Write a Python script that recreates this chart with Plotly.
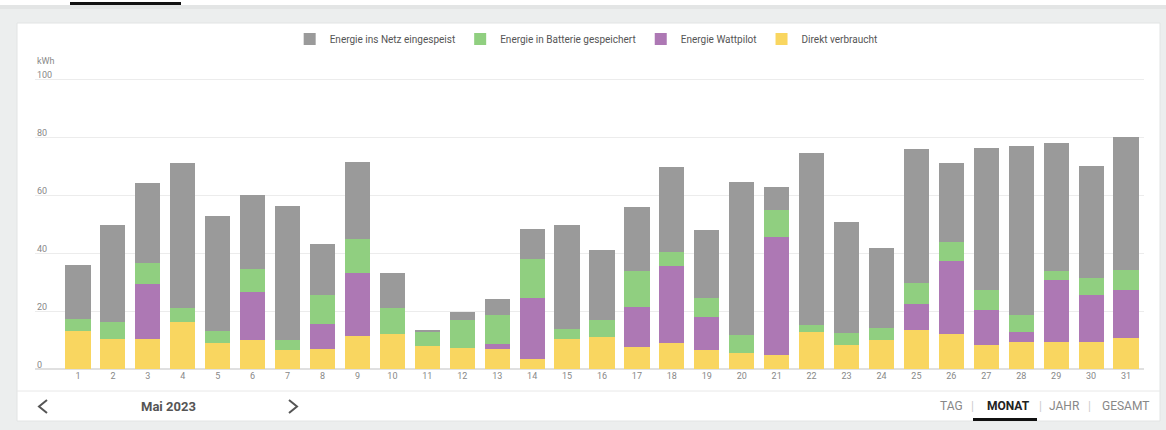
import plotly.graph_objects as go

days = [str(i) for i in range(1, 32)]
direkt = [13.2, 10.5, 10.3, 16.1, 8.9, 10.1, 6.7, 6.8, 11.4, 12.0,
          7.8, 7.2, 6.8, 3.4, 10.2, 11.0, 7.6, 9.0, 6.7, 5.6,
          4.7, 12.8, 8.3, 10.0, 13.4, 12.0, 8.3, 9.2, 9.2, 9.4, 10.8]
wattpilot = [0, 0, 19.1, 0, 0, 16.6, 0, 8.7, 21.8, 0,
             0, 0, 1.9, 21.0, 0, 0, 13.9, 26.5, 11.1, 0,
             40.9, 0, 0, 0, 9.1, 25.4, 12.2, 3.6, 21.6, 16.1, 16.6]
batterie = [4.2, 5.6, 7.0, 5.0, 4.3, 7.7, 3.4, 10.1, 11.7, 8.9,
            5.2, 9.6, 9.8, 13.4, 3.7, 5.8, 12.2, 4.7, 6.6, 6.0,
            9.3, 2.5, 4.2, 4.3, 7.0, 6.5, 6.9, 5.7, 2.9, 5.8, 6.7]
netz = [18.6, 33.4, 27.7, 50.0, 39.7, 25.7, 46.2, 17.4, 26.5, 12.3,
        0.6, 2.9, 5.6, 10.6, 35.6, 24.1, 22.3, 29.5, 23.6, 52.8,
        8.0, 59.3, 38.3, 27.4, 46.5, 27.2, 48.8, 58.4, 44.2, 38.6, 45.9]
y_ticks = [0, 20, 40, 60, 80, 100]

W, H = 1166, 430
ML, MR, MT, MB = 35, 22, 75, 61
PW, PH = W - ML - MR, H - MT - MB
Y_MAX = 101.4


def px(x):
    return (x - ML) / PW


def py(y):
    return (H - MB - y) / PH


fig = go.Figure()
series = [
    ("Direkt verbraucht", direkt, "#f9d660"),
    ("Energie Wattpilot", wattpilot, "#ad78b4"),
    ("Energie in Batterie gespeichert", batterie, "#90cf80"),
    ("Energie ins Netz eingespeist", netz, "#9a9a9a"),
]
for name, vals, col in series:
    fig.add_trace(go.Bar(x=days, y=vals, name=name, marker_color=col,
                         marker_line_width=0))

# bars: category centre of day 1 at x=78 px, step ~34.95 px
step = 34.95
left_cat = -0.5 - ((78 - step / 2) - ML) / step
right_cat = 30.5 + ((W - MR) - (1126 + step / 2)) / step

fig.update_layout(
    width=W, height=H,
    margin=dict(l=ML, r=MR, t=MT, b=MB, pad=0),
    paper_bgcolor="#eceeee",
    plot_bgcolor="rgba(0,0,0,0)",
    barmode="stack",
    bargap=0.28,
    font=dict(family="Roboto", color="#666"),
    showlegend=True,
    legend=dict(orientation="h", x=0.497, xanchor="center", y=py(39), yanchor="middle",
                traceorder="reversed", font=dict(size=10, color="#555"),
                bgcolor="rgba(0,0,0,0)", itemwidth=30),
    xaxis=dict(type="category", range=[left_cat, right_cat], showgrid=False,
               showline=False, ticks="", tickfont=dict(size=9, color="#888"),
               fixedrange=True),
    yaxis=dict(range=[0, Y_MAX], tickvals=y_ticks, showticklabels=False,
               showgrid=True, gridcolor="#ececec",
               gridwidth=1, zeroline=True, zerolinecolor="#e0e0e0", showline=False,
               ticks="", fixedrange=True),
)

shapes = []
# top white strip + tab underline
shapes.append(dict(type="rect", xref="paper", yref="paper", x0=px(0), x1=px(W),
                   y0=py(0), y1=py(5), fillcolor="white", line_width=0, layer="below"))
shapes.append(dict(type="rect", xref="paper", yref="paper", x0=px(0), x1=px(W),
                   y0=py(5), y1=py(9), fillcolor="#e3e5e5", line_width=0, layer="below"))
shapes.append(dict(type="rect", xref="paper", yref="paper", x0=px(70), x1=px(181),
                   y0=py(2), y1=py(5), fillcolor="#111", line_width=0, layer="below"))
# card
shapes.append(dict(type="rect", xref="paper", yref="paper", x0=px(17), x1=px(1160),
                   y0=py(23), y1=py(421), fillcolor="white", line=dict(color="#e2e4e4", width=1),
                   layer="below"))
# separator above nav
shapes.append(dict(type="line", xref="paper", yref="paper", x0=px(17), x1=px(1160),
                   y0=py(391), y1=py(391), line=dict(color="#e8e8e8", width=1)))
# MONAT underline
shapes.append(dict(type="rect", xref="paper", yref="paper", x0=px(973), x1=px(1037),
                   y0=py(418), y1=py(421), fillcolor="#111", line_width=0))
# chevrons
for pts in ([(47, 400), (39, 406.5), (47, 413)], [(289, 400), (297, 406.5), (289, 413)]):
    path = "M " + " L ".join(f"{px(a)},{py(b)}" for a, b in pts)
    shapes.append(dict(type="path", xref="paper", yref="paper", path=path,
                       line=dict(color="#555", width=2)))
fig.update_layout(shapes=shapes)

ann = []
for v in y_ticks:
    ann.append(dict(text=str(v), xref="paper", yref="y", x=px(35), y=v,
                    xanchor="left", yanchor="bottom", yshift=-3, showarrow=False,
                    font=dict(size=9, color="#888")))
ann.append(dict(text="kWh", xref="paper", yref="paper", x=px(35), y=py(61),
                xanchor="left", yanchor="middle", showarrow=False,
                font=dict(size=9, color="#888")))
ann.append(dict(text="<b>Mai 2023</b>", xref="paper", yref="paper", x=px(168), y=py(406),
                xanchor="center", yanchor="middle", showarrow=False,
                font=dict(size=13, color="#555")))
nav = [("TAG", 951, False, "#888"), ("|", 972, False, "#ccc"), ("MONAT", 1008, True, "#222"),
       ("|", 1040, False, "#ccc"), ("JAHR", 1064, False, "#888"), ("|", 1089, False, "#ccc"),
       ("GESAMT", 1125, False, "#888")]
for t, x, b, c in nav:
    ann.append(dict(text=f"<b>{t}</b>" if b else t, xref="paper", yref="paper", x=px(x), y=py(406),
                    xanchor="center", yanchor="middle", showarrow=False,
                    font=dict(size=12, color=c)))
fig.update_layout(annotations=ann)

fig.write_html("out.html", config={"displayModeBar": False},
               post_script="document.body.style.margin='0';document.body.style.overflow='hidden';")
